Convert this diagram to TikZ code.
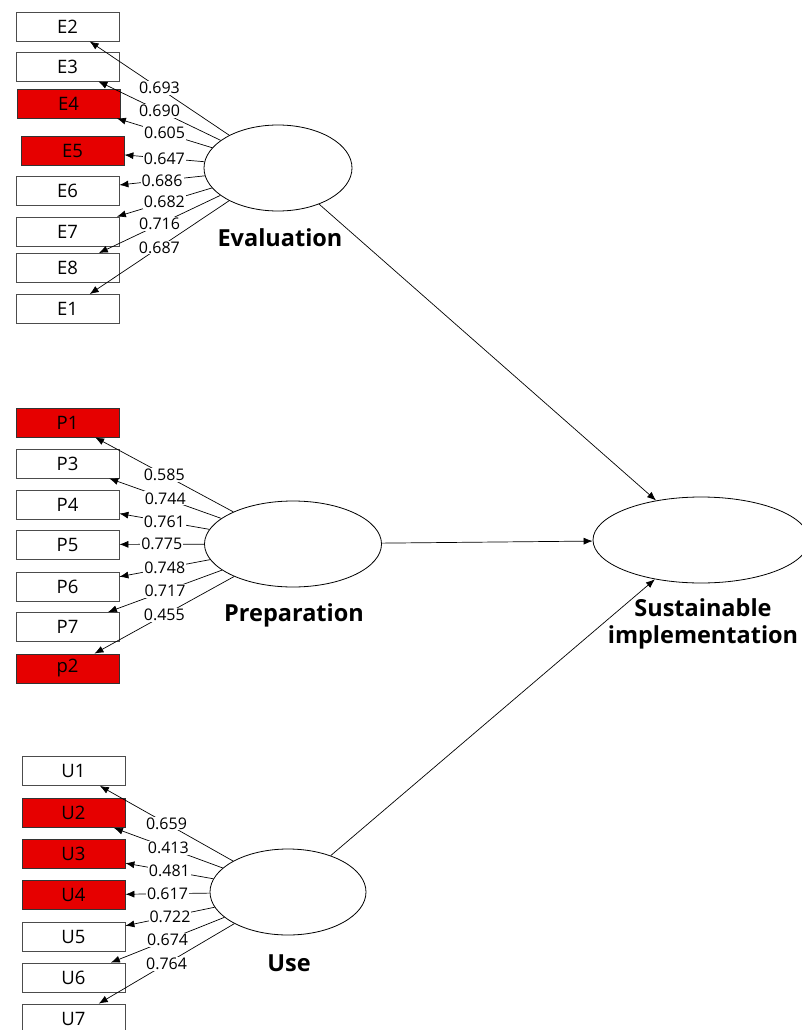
\documentclass[tikz,border=0pt]{standalone}
\usepackage{fontspec}
\setmainfont{Open Sans}
\usetikzlibrary{arrows.meta,shapes.geometric}
\definecolor{itemred}{RGB}{230,0,0}
\tikzset{
  ind/.style={draw=black!70, line width=0.8pt, fill=white, minimum width=103pt, minimum height=29pt, inner sep=0pt, font=\fontsize{18.5}{20}\selectfont},
  indred/.style={ind, fill=itemred, draw=black!80},
  lv/.style={draw, ellipse, line width=0.8pt, fill=white, inner sep=0pt},
  lvname/.style={font=\fontsize{23.5}{27}\selectfont\bfseries, align=center},
  ld/.style={midway, fill=white, inner sep=1pt, font=\fontsize{16}{17}\selectfont},
  arr/.style={-{Latex[length=9pt,width=7pt]}, line width=0.7pt},
}
\begin{document}
\begin{tikzpicture}[x=1pt,y=-1pt]
\useasboundingbox (0,0) rectangle (801,1030);

% latent variables
\node[lv, minimum width=148pt, minimum height=86pt] (ev) at (278,168) {};
\node[lv, minimum width=177pt, minimum height=86pt] (pr) at (293,544) {};
\node[lv, minimum width=156pt, minimum height=86pt] (us) at (288,892) {};
\node[lv, minimum width=216pt, minimum height=86pt] (si) at (701,540) {};

\node[lvname] (evname) at (280,238) {Evaluation};
\node[lvname] (prname) at (294,615) {Preparation};
\node[lvname] (usname) at (289,963) {Use};
\node[lvname] (siname) at (703,624) {Sustainable\\implementation};

% evaluation items
\node[ind] (e2) at (67.5,26.5) {E2};
\node[ind] (e3) at (67.5,66.5) {E3};
\node[indred] (e4) at (68.5,103.5) {E4};
\node[indred] (e5) at (72.5,150.5) {E5};
\node[ind] (e6) at (67.5,190.5) {E6};
\node[ind] (e7) at (67.5,231.5) {E7};
\node[ind] (e8) at (67.5,268) {E8};
\node[ind] (e1) at (67.5,309) {E1};

% preparation items
\node[indred] (p1) at (67.5,422.5) {P1};
\node[ind] (p3) at (67.5,463.5) {P3};
\node[ind] (p4) at (67.5,504.5) {P4};
\node[ind] (p5) at (67.5,544.5) {P5};
\node[ind] (p6) at (67.5,586.5) {P6};
\node[ind] (p7) at (67.5,627) {P7};
\node[indred] (p2) at (67.5,668.5) {p2};

% use items
\node[ind] (u1) at (73.5,771) {U1};
\node[indred] (u2) at (73.5,813) {U2};
\node[indred] (u3) at (73.5,854) {U3};
\node[indred] (u4) at (73.5,895) {U4};
\node[ind] (u5) at (73.5,936.5) {U5};
\node[ind] (u6) at (73.5,977.5) {U6};
\node[ind] (u7) at (73.5,1018.5) {U7};

% loadings
\draw[arr] (ev) -- node[ld] {0.693} (e2);
\draw[arr] (ev) -- node[ld] {0.690} (e3);
\draw[arr] (ev) -- node[ld] {0.605} (e4);
\draw[arr] (ev) -- node[ld] {0.647} (e5);
\draw[arr] (ev) -- node[ld] {0.686} (e6);
\draw[arr] (ev) -- node[ld] {0.682} (e7);
\draw[arr] (ev) -- node[ld] {0.716} (e8);
\draw[arr] (ev) -- node[ld] {0.687} (e1);

\draw[arr] (pr) -- node[ld] {0.585} (p1);
\draw[arr] (pr) -- node[ld] {0.744} (p3);
\draw[arr] (pr) -- node[ld] {0.761} (p4);
\draw[arr] (pr) -- node[ld] {0.775} (p5);
\draw[arr] (pr) -- node[ld] {0.748} (p6);
\draw[arr] (pr) -- node[ld] {0.717} (p7);
\draw[arr] (pr) -- node[ld] {0.455} (p2);

\draw[arr] (us) -- node[ld] {0.659} (u1);
\draw[arr] (us) -- node[ld] {0.413} (u2);
\draw[arr] (us) -- node[ld] {0.481} (u3);
\draw[arr] (us) -- node[ld] {0.617} (u4);
\draw[arr] (us) -- node[ld] {0.722} (u5);
\draw[arr] (us) -- node[ld] {0.674} (u6);
\draw[arr] (us) -- node[ld] {0.764} (u7);

% paths
\draw[arr] (ev) -- (si);
\draw[arr] (pr) -- (si);
\draw[arr] (us) -- (si);
\end{tikzpicture}
\end{document}
